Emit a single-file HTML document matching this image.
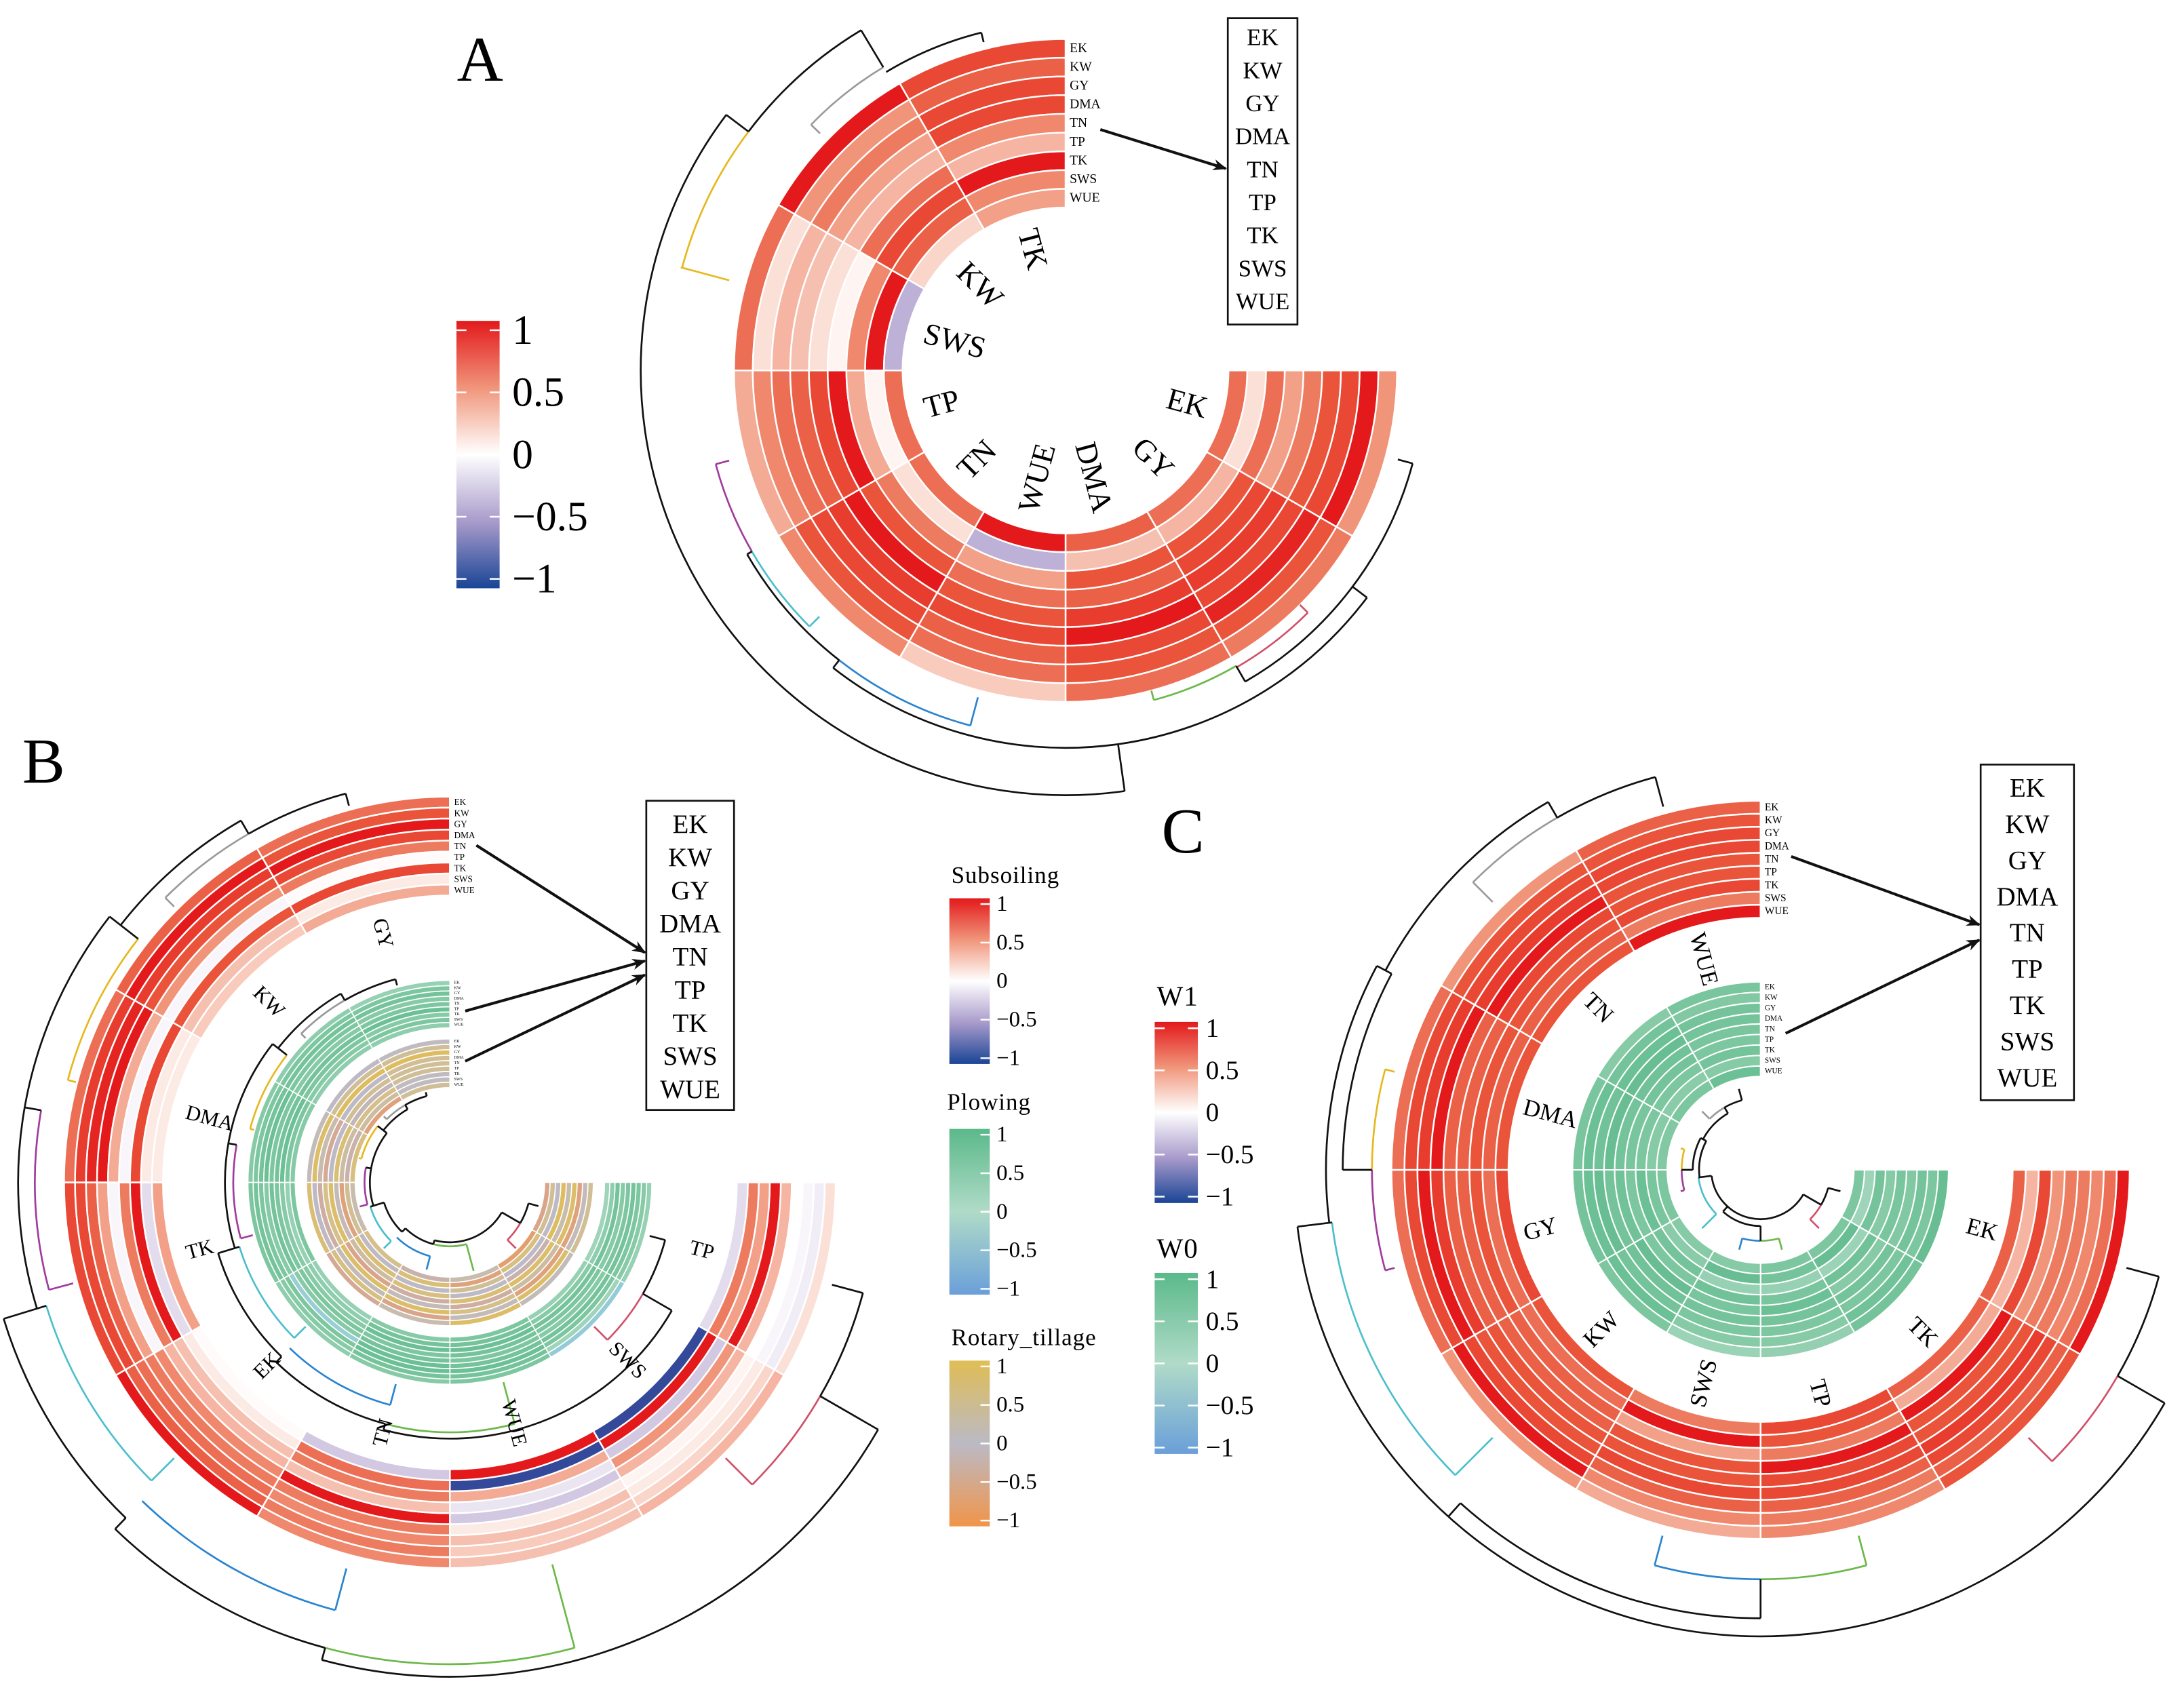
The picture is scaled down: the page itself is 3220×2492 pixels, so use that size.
<!DOCTYPE html>
<html><head><meta charset="utf-8"><title>Circular correlation heatmaps</title>
<style>
html,body{margin:0;padding:0;background:#fff;}
svg{display:block;}
text{font-family:"Liberation Serif","DejaVu Serif",serif;}
</style></head>
<body>
<svg id="fig" xmlns="http://www.w3.org/2000/svg" width="3220" height="2492" viewBox="0 0 1568 1213.5" preserveAspectRatio="none">
<defs>
<linearGradient id="gRed" x1="0" y1="0" x2="0" y2="1">
<stop offset="0" stop-color="#e3191c"/><stop offset="0.25" stop-color="#f0957a"/><stop offset="0.5" stop-color="#ffffff"/><stop offset="0.75" stop-color="#a99bcb"/><stop offset="1" stop-color="#1a4596"/></linearGradient>
<linearGradient id="gGreen" x1="0" y1="0" x2="0" y2="1">
<stop offset="0" stop-color="#5bb98a"/><stop offset="0.5" stop-color="#b0dbc8"/><stop offset="1" stop-color="#6a9fd9"/></linearGradient>
<linearGradient id="gRot" x1="0" y1="0" x2="0" y2="1">
<stop offset="0" stop-color="#e0bd55"/><stop offset="0.5" stop-color="#bbbac5"/><stop offset="1" stop-color="#f0954a"/></linearGradient>
<marker id="arr" markerWidth="10" markerHeight="8" refX="9" refY="4" orient="auto" markerUnits="userSpaceOnUse"><path d="M0,0 L10,4 L0,8 L3,4 Z" fill="#111"/></marker>
</defs>
<rect x="0" y="0" width="1568" height="1213.5" fill="#fff"/>
<g id="root"></g>
</svg>
<script>
// ---------- data ----------
const rowVars = ['EK','KW','GY','DMA','TN','TP','TK','SWS','WUE'];
const sectorsA = ['EK','GY','DMA','WUE','TN','TP','SWS','KW','TK'];
const sectorsB = ['TP','SWS','WUE','TN','EK','TK','DMA','KW','GY'];
const sectorsC = ['EK','TK','TP','SWS','KW','GY','DMA','TN','WUE'];
const valuesA = [
 [0.5,1,0.8,0.75,0.6,0.45,0.65,0.15,0.65],
 [0.6,0.75,0.95,0.8,0.85,0.8,0.75,0.35,0.65],
 [0.65,0.75,0.8,1,0.85,0.7,0.75,0.3,0.7],
 [0.25,0.65,0.7,0.8,0.75,0.65,0.45,-0.4,1],
 [0.55,0.75,0.8,0.85,1,0.75,0.6,0.15,0.65],
 [0.4,0.55,0.65,0.7,0.8,1,0.4,0.05,0.65],
 [0.65,0.15,0.35,0.3,0.15,0.05,0.55,1,-0.4],
 [1,0.5,0.6,0.45,0.35,0.65,0.8,0.7,0.2],
 [0.8,0.7,0.8,0.8,0.55,0.35,1,0.55,0.45]];
const valuesBsub = [
 [0.15,-0.1,-0.05,0,0.35,1,0.45,0.6,-0.2],
 [0.35,0.2,0.1,0.05,0.35,0.5,-0.3,1,-0.9],
 [0.3,0.25,0.3,0.1,-0.3,-0.15,0.4,-0.9,1],
 [0.55,0.6,0.55,0.6,1,0.3,0.6,0.65,-0.3],
 [1,0.7,0.65,0.6,0.55,0.35,0.3,0.1,0.02],
 [0.8,0.8,0.7,0.45,-0.05,0.6,1,-0.2,0.45],
 [0.65,0.85,0.95,1,0.4,-0.05,0.8,0.1,0.1],
 [0.7,1,0.85,0.75,0.5,-0.05,0.75,0.3,0.25],
 [0.65,0.75,1,0.8,0.6,0.02,0.8,0.1,0.4]];
const valuesBplow = [
 [0.3,0.5,0.6,0.7,0.6,0.5,0.7,0.4,0.2],
 [-0.5,0.2,0.6,0.7,0.5,0.6,0.7,0.5,0.3],
 [0.6,0.7,0.8,0.7,0.6,0.7,0.8,0.7,0.6],
 [0.5,0.7,0.8,0.8,0.7,0.6,0.8,0.7,0.5],
 [0.4,0.5,0.6,-0.4,0.5,0.6,0.5,0.4,0.3],
 [0.6,0.7,0.6,0.5,0.7,0.6,0.5,0.3,0.6],
 [0.5,0.6,0.7,0.8,0.6,0.7,0.8,0.6,0.5],
 [0.4,0.6,0.7,0.6,0.5,0.7,0.6,0.5,0.4],
 [0.3,0.6,0.7,0.5,0.6,0.8,0.5,0.6,0.4]];
const valuesBrot = [
 [0.4,0.1,-0.6,0.8,0.2,0.9,0.0,0.4,-0.5],
 [0.1,0.8,-0.6,0.3,0.8,-0.2,0.0,0.6,-0.7],
 [0.8,0.1,0.5,-0.3,0.7,0.0,0.4,-0.6,0.2],
 [0.2,-0.5,0.8,0.1,-0.3,0.6,0.0,0.7,-0.2],
 [-0.4,0.6,0.1,0.8,-0.5,0.3,0.7,0.0,0.5],
 [0.7,0.0,-0.3,0.5,0.8,0.1,-0.6,0.4,0.2],
 [0.1,0.8,0.2,-0.4,0.0,0.7,0.3,-0.2,0.6],
 [0.0,0.4,0.9,0.0,0.4,-0.1,0.5,0.3,-0.6],
 [0.05,0.4,0.9,0.4,0.4,0.4,0.05,0.05,0.4]];
const valuesCw1 = [
 [1,0.65,0.55,0.6,0.6,0.5,0.8,0.35,0.7],
 [0.75,0.7,0.8,0.85,0.75,0.75,1,0.4,0.7],
 [0.55,0.6,0.7,0.8,0.8,1,0.6,0.75,0.8],
 [0.4,0.55,0.7,0.8,0.75,0.75,0.45,1,0.6],
 [0.5,1,0.8,0.75,0.75,0.7,0.7,0.65,0.75],
 [0.65,0.8,1,0.85,0.7,0.7,0.75,0.65,0.8],
 [0.65,0.8,0.85,1,0.7,0.7,0.75,0.7,0.75],
 [0.5,0.75,0.8,0.85,1,0.8,0.75,0.7,0.75],
 [0.7,0.75,0.8,0.8,0.75,0.75,0.8,0.6,1]];
const valuesCw0 = [
 [0.85,0.6,0.7,0.55,0.65,0.5,0.7,0.2,0.6],
 [0.7,0.75,0.6,0.7,0.5,0.75,0.25,0.85,0.6],
 [0.35,0.5,0.6,0.7,0.8,0.65,0.3,0.7,0.6],
 [0.25,0.5,0.6,0.7,0.65,0.75,0.3,0.85,0.5],
 [0.6,0.8,0.7,0.75,0.85,0.6,0.7,0.45,0.5],
 [0.7,0.8,0.85,0.7,0.75,0.6,0.8,0.65,0.6],
 [0.65,0.8,0.75,0.85,0.7,0.65,0.6,0.5,0.55],
 [0.5,0.7,0.8,0.85,0.75,0.7,0.6,0.45,0.6],
 [0.65,0.55,0.7,0.7,0.65,0.6,0.7,0.5,0.8]];
const legendTicks = ['1','0.5','0','\u22120.5','\u22121'];
// dendrogram segments: arcs [r, a0, a1, colour], legs [angle, r0, r1, colour]
const treeArcsA = [[305,82,217,'k'],[285,195,217,'y'],[285,217,239,'k'],[254,224,239,'g'],[250,239,256,'k'],[271,37,128,'k'],[264,105,128,'b'],[264,128,150,'k'],[260,135,150,'c'],[260,150,165,'p'],[258,15,60,'k'],[245,60,75,'gr'],[246,45,60,'r']];
const treeLegsA = [[82,271,305,'k'],[217,285,305,'k'],[195,250,286,'y'],[239,254,285,'k'],[224,245,254,'g'],[256,243,250,'k'],[37,258,271,'k'],[128,264,271,'k'],[105,243,264,'b'],[150,260,264,'k'],[135,250,260,'c'],[165,250,260,'p'],[15,247,258,'k'],[60,245,258,'k'],[75,238,245,'gr'],[45,238,246,'r']];
const treeArcsB = [[289,225,240,'g'],[289,240,255,'k'],[300,218,240,'k'],[284,195,218,'y'],[298,165,190,'p'],[310,163,218,'k'],[303,135,163,'c'],[335,134,163,'k'],[318,105,134,'b'],[346,105,134,'k'],[346,75,105,'gr'],[355,30,105,'k'],[307,15,30,'k'],[307,30,45,'r']];
const treeLegsB = [[255,280,289,'k'],[225,280,289,'g'],[240,289,300,'k'],[195,278,284,'y'],[218,284,310,'k'],[165,280,298,'p'],[190,298,310,'k'],[135,280,303,'c'],[163,303,335,'k'],[134,335,346,'k'],[105,287,318,'b'],[75,284,346,'gr'],[105,346,355,'k'],[15,284,307,'k'],[30,307,355,'k'],[45,280,307,'r']];
const treeArcsC = [[292,225,240,'g'],[292,240,255,'k'],[305,208,240,'k'],[279,165,180,'p'],[279,180,195,'y'],[300,180,208,'k'],[312,173,208,'k'],[310,135,173,'c'],[335,30,173,'k'],[296,15,30,'k'],[296,30,45,'r'],[294,75,90,'gr'],[294,90,105,'b'],[322,90,132,'k']];
const treeLegsC = [[255,270,292,'k'],[225,272,292,'g'],[240,292,305,'k'],[165,272,279,'p'],[195,272,279,'y'],[180,279,300,'k'],[208,300,312,'k'],[135,272,310,'c'],[173,310,335,'k'],[15,272,296,'k'],[45,272,296,'r'],[30,296,335,'k'],[75,272,294,'gr'],[105,272,294,'b'],[90,294,322,'k'],[132,322,335,'k']];
</script>
<script>
const NS='http://www.w3.org/2000/svg';
const root=document.getElementById('root');
const treeCol={k:'#111',y:'#e6b81e',g:'#9a9a9a',p:'#a03c9c',c:'#4bbfcc',b:'#2a84d0',gr:'#6cb84a',r:'#d0506a'};
const redStops=[[-1,[26,69,150]],[-0.75,[90,80,160]],[-0.5,[169,155,203]],[-0.25,[220,211,232]],[0,[255,255,255]],[0.25,[248,203,189]],[0.5,[240,149,122]],[0.75,[233,84,58]],[1,[227,25,28]]];
const greenStops=[[-1,[106,159,217]],[-0.5,[147,203,216]],[0,[176,219,200]],[0.5,[134,202,166]],[1,[91,185,138]]];
const rotStops=[[-1,[240,149,74]],[-0.5,[217,165,138]],[0,[190,186,197]],[0.5,[213,191,138]],[1,[224,189,85]]];
function colorOf(stops,v){
  v=Math.max(-1,Math.min(1,v));
  for(let i=0;i<stops.length-1;i++){
    const a=stops[i],b=stops[i+1];
    if(v>=a[0]&&v<=b[0]){const t=(v-a[0])/(b[0]-a[0]);
      const c=a[1].map((x,k)=>Math.round(x+(b[1][k]-x)*t));
      return 'rgb('+c.join(',')+')';}
  }
  return 'rgb('+stops[stops.length-1][1].join(',')+')';
}
function pt(cx,cy,r,a){const t=a*Math.PI/180;return [cx+r*Math.cos(t),cy+r*Math.sin(t)];}
function mk(tag,parent){const e=document.createElementNS(NS,tag);parent.appendChild(e);return e;}
function sectorPath(cx,cy,r0,r1,a0,a1){
  const p1=pt(cx,cy,r1,a0),p2=pt(cx,cy,r1,a1),p3=pt(cx,cy,r0,a1),p4=pt(cx,cy,r0,a0);
  const lg=(a1-a0)>180?1:0;
  return 'M'+p1+' A'+r1+','+r1+' 0 '+lg+' 1 '+p2+' L'+p3+' A'+r0+','+r0+' 0 '+lg+' 0 '+p4+'Z';
}
function heatmap(name,cx,cy,r0,r1,vals,stops,gap){
  const g=mk('g',root);
  
  
  const n=rowVars.length, th=(r1-r0)/n, span=270/vals.length;
  vals.forEach((sec,si)=>{
    sec.forEach((v,ri)=>{
      const ro=r1-ri*th, rin=ro-th;
      const p=mk('path',g);
      p.setAttribute('d',sectorPath(cx,cy,rin,ro,si*span,(si+1)*span));
      p.setAttribute('fill',colorOf(stops,v));
      p.setAttribute('stroke','#fff');
      p.setAttribute('stroke-width',gap);
      
      
    });
  });
}
function sectorLabels(name,cx,cy,r,sectors,size){
  const span=270/sectors.length;
  sectors.forEach((s,i)=>{
    const a=(i+0.5)*span;
    const p=pt(cx,cy,r,a);
    const t=mk('text',root);
    let rot=a, anchor='end';
    if(a>90&&a<270){rot=a-180;anchor='start';}
    t.setAttribute('x',p[0]);t.setAttribute('y',p[1]);
    t.setAttribute('font-size',size);
    t.setAttribute('text-anchor',anchor);
    t.setAttribute('dominant-baseline','central');
    t.setAttribute('transform','rotate('+rot+' '+p[0]+' '+p[1]+')');
    t.textContent=s;
    
    
  });
}
function rowLabels(name,cx,cy,r0,r1,size){
  const th=(r1-r0)/rowVars.length;
  rowVars.forEach((v,i)=>{
    const t=mk('text',root);
    t.setAttribute('x',cx+3);
    t.setAttribute('y',cy-(r1-(i+0.5)*th));
    t.setAttribute('font-size',size);
    t.setAttribute('dominant-baseline','central');
    t.textContent=v;
    
    
  });
}
function tree(name,cx,cy,arcs,legs,map,w){
  const g=mk('g',root);
  
  
  arcs.forEach(a=>{
    const r=map(a[0]);const p1=pt(cx,cy,r,a[1]),p2=pt(cx,cy,r,a[2]);
    const e=mk('path',g);
    e.setAttribute('d','M'+p1+' A'+r+','+r+' 0 '+((a[2]-a[1])>180?1:0)+' 1 '+p2);
    e.setAttribute('fill','none');e.setAttribute('stroke',treeCol[a[3]]);e.setAttribute('stroke-width',w);
    
    
  });
  legs.forEach(l=>{
    const p1=pt(cx,cy,map(l[1]),l[0]),p2=pt(cx,cy,map(l[2]),l[0]);
    const e=mk('line',g);
    e.setAttribute('x1',p1[0]);e.setAttribute('y1',p1[1]);e.setAttribute('x2',p2[0]);e.setAttribute('y2',p2[1]);
    e.setAttribute('stroke',treeCol[l[3]]);e.setAttribute('stroke-width',w);
    
    
  });
}
function textBox(name,x,y,w,h,base,step,size){
  const r=mk('rect',root);
  r.setAttribute('x',x);r.setAttribute('y',y);r.setAttribute('width',w);r.setAttribute('height',h);
  r.setAttribute('fill','#fff');r.setAttribute('stroke','#111');r.setAttribute('stroke-width',1.3);
  
  
  rowVars.forEach((v,i)=>{
    const t=mk('text',root);
    t.setAttribute('x',x+w/2);t.setAttribute('y',base+i*step);
    t.setAttribute('font-size',size);t.setAttribute('text-anchor','middle');
    t.textContent=v;
    
    
  });
}
function arrow(name,x1,y1,x2,y2){
  const l=mk('line',root);
  l.setAttribute('x1',x1);l.setAttribute('y1',y1);l.setAttribute('x2',x2);l.setAttribute('y2',y2);
  l.setAttribute('stroke','#111');l.setAttribute('stroke-width',2);l.setAttribute('marker-end','url(#arr)');
  
  
}
function legend(name,title,grad,x,y,w,h,size,titleSize,tx,ty,ticksBoth){
  if(title){const t=mk('text',root);
    t.setAttribute('x',tx);t.setAttribute('y',ty);t.setAttribute('font-size',titleSize);
    t.setAttribute('letter-spacing','0.5');
    t.textContent=title;
    
    }
  const r=mk('rect',root);
  r.setAttribute('x',x);r.setAttribute('y',y);r.setAttribute('width',w);r.setAttribute('height',h);
  r.setAttribute('fill','url(#'+grad+')');
  
  
  const pad=h*0.035;
  legendTicks.forEach((lab,i)=>{
    const yy=y+pad+i*(h-2*pad)/(legendTicks.length-1);
    const tk=mk('line',root);
    tk.setAttribute('x1',x+w-w*0.23);tk.setAttribute('x2',x+w);tk.setAttribute('y1',yy);tk.setAttribute('y2',yy);
    tk.setAttribute('stroke','#fff');tk.setAttribute('stroke-width',1.2);
    
    
    if(ticksBoth){const tk2=mk('line',root);
      tk2.setAttribute('x1',x);tk2.setAttribute('x2',x+w*0.23);tk2.setAttribute('y1',yy);tk2.setAttribute('y2',yy);
      tk2.setAttribute('stroke','#fff');tk2.setAttribute('stroke-width',1.2);
      
      }
    const t=mk('text',root);
    t.setAttribute('x',x+w+size*0.3);t.setAttribute('y',yy);t.setAttribute('font-size',size);
    t.setAttribute('dominant-baseline','central');
    t.textContent=lab;
    
    
  });
}
function letter(txt,x,y){
  const t=mk('text',root);
  t.setAttribute('x',x);t.setAttribute('y',y);t.setAttribute('font-size',46);
  t.textContent=txt;
  
  
}

// ---------- Panel A ----------
const A={cx:765,cy:266,r0:117,r1:238};
heatmap('heatmap-a',A.cx,A.cy,A.r0,A.r1,valuesA,redStops,1.2);
tree('dendrogram-a',A.cx,A.cy,treeArcsA,treeLegsA,r=>r,1.3);
sectorLabels('a',A.cx,A.cy,A.r0-12,sectorsA,22);
rowLabels('heatmap-a',A.cx,A.cy,A.r0,A.r1,9.5);
textBox('variable-box-a',881.5,13,50,220,32.5,23.7,17);
arrow('arrow-a',790,93,880,121);
legend('legend-a','', 'gRed',327.7,230.4,31,192,30,0,0,0,true);
letter('A',328,58);

// ---------- Panel B ----------
const B={cx:323,cy:849};
heatmap('heatmap-b-subsoiling',B.cx,B.cy,206,277,valuesBsub,redStops,1.2);
heatmap('heatmap-b-plowing',B.cx,B.cy,111,145,valuesBplow,greenStops,0.8);
heatmap('heatmap-b-rotary',B.cx,B.cy,68,103,valuesBrot,rotStops,0.8);
tree('dendrogram-b-outer',B.cx,B.cy,treeArcsB,treeLegsB,r=>r,1.3);
tree('dendrogram-b-middle',B.cx,B.cy,treeArcsB,treeLegsB,r=>145+(r-277)*0.5,1.3);
tree('dendrogram-b-inner',B.cx,B.cy,treeArcsB,treeLegsB,r=>68-(r-277)*0.32,1.3);
sectorLabels('b',B.cx,B.cy,196,sectorsB,15);
rowLabels('heatmap-b-subsoiling',B.cx,B.cy,206,277,6.5);
rowLabels('heatmap-b-plowing',B.cx,B.cy,111,145,3);
rowLabels('heatmap-b-rotary',B.cx,B.cy,68,103,3);
textBox('variable-box-b',464,575,63,222,598,23.8,19);
arrow('arrow-b-1',342,607,463,684);
arrow('arrow-b-2',334,726,463,690);
arrow('arrow-b-3',334,762,463,700);
legend('legend-subsoiling','Subsoiling','gRed',681.6,645,29,119,16,17,683,634,false);
legend('legend-plowing','Plowing','gGreen',681.6,810.6,29,119,16,17,680,797,false);
legend('legend-rotary','Rotary_tillage','gRot',681.6,977,29,119,16,17,683,966,false);
letter('B',16,562);

// ---------- Panel C ----------
const C={cx:1264,cy:840};
heatmap('heatmap-c-w1',C.cx,C.cy,181,265,valuesCw1,redStops,1.2);
heatmap('heatmap-c-w0',C.cx,C.cy,67,135,valuesCw0,greenStops,1);
tree('dendrogram-c-outer',C.cx,C.cy,treeArcsC,treeLegsC,r=>r,1.3);
tree('dendrogram-c-inner',C.cx,C.cy,treeArcsC,treeLegsC,r=>62-(r-265)*0.38,1.3);
sectorLabels('c',C.cx,C.cy,176,sectorsC,17);
rowLabels('heatmap-c-w1',C.cx,C.cy,181,265,7.5);
rowLabels('heatmap-c-w0',C.cx,C.cy,67,135,5.5);
textBox('variable-box-c',1422,549,67,241,572,26,19);
arrow('arrow-c-1',1286,615,1421,664);
arrow('arrow-c-2',1282,742,1421,675);
legend('legend-w1','W1','gRed',829,733.8,31,130,19,20,830.5,722,true);
legend('legend-w0','W0','gGreen',829,914,31,130,19,20,830.5,903,true);
letter('C',834,612);
</script>
</body></html>
